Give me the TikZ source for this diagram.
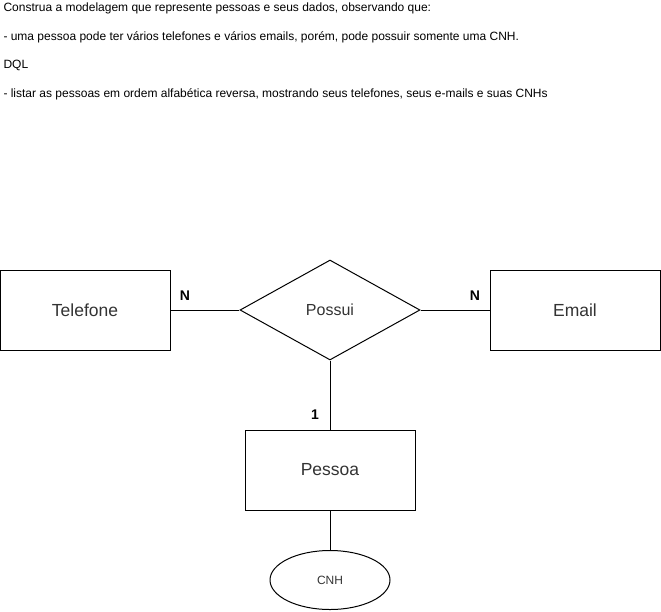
\documentclass[tikz,border=0pt]{standalone}
\usepackage{fontspec}
\setmainfont{Liberation Sans}
\usetikzlibrary{shapes.geometric,positioning}
\begin{document}
\begin{tikzpicture}[x=1pt,y=-1pt,line width=1pt]
\tikzset{entidade/.style={rectangle,draw,minimum width=170pt,minimum height=80pt,inner sep=0pt,text=black!80,font=\fontsize{17.5}{20}\selectfont}}
\tikzset{relacao/.style={diamond,draw,minimum width=180pt,minimum height=100pt,inner sep=0pt,aspect=1.8,text=black!80,font=\fontsize{16}{19}\selectfont}}
\tikzset{atributo/.style={ellipse,draw,minimum width=120pt,minimum height=59pt,inner sep=0pt,text=black!80,font=\fontsize{12}{14}\selectfont}}
\tikzset{card/.style={inner sep=0pt,font=\fontsize{14}{16}\selectfont\bfseries}}
\tikzset{enunciado/.style={anchor=base west,inner sep=0pt,font=\fontsize{12}{14}\selectfont}}
\useasboundingbox (0,0) rectangle (661,611);

  % enunciado
  \node[enunciado] (l1) at (3,11) {Construa a modelagem que represente pessoas e seus dados, observando que:};
  \node[enunciado] (l2) at (3,40) {- uma pessoa pode ter vários telefones e vários emails, porém, pode possuir somente uma CNH.};
  \node[enunciado] (l3) at (3,68) {DQL};
  \node[enunciado] (l4) at (3,97) {- listar as pessoas em ordem alfabética reversa, mostrando seus telefones, seus e-mails e suas CNHs};

  % diagrama
  \node[relacao] (possui) at (330,310) {Possui};
  \node[entidade] (telefone) at (85,310) {Telefone};
  \node[entidade] (email) at (575,310) {Email};
  \node[entidade] (pessoa) at (330,470) {Pessoa};
  \node[atributo] (cnh) at (330,580) {CNH};

  \draw (telefone) -- (possui);
  \draw (possui) -- (email);
  \draw (possui) -- (pessoa);
  \draw (pessoa) -- (cnh);

  \node[card] (n1) at (185,296) {N};
  \node[card] (n2) at (475,296) {N};
  \node[card] (um) at (315,415) {1};

\end{tikzpicture}
\end{document}
